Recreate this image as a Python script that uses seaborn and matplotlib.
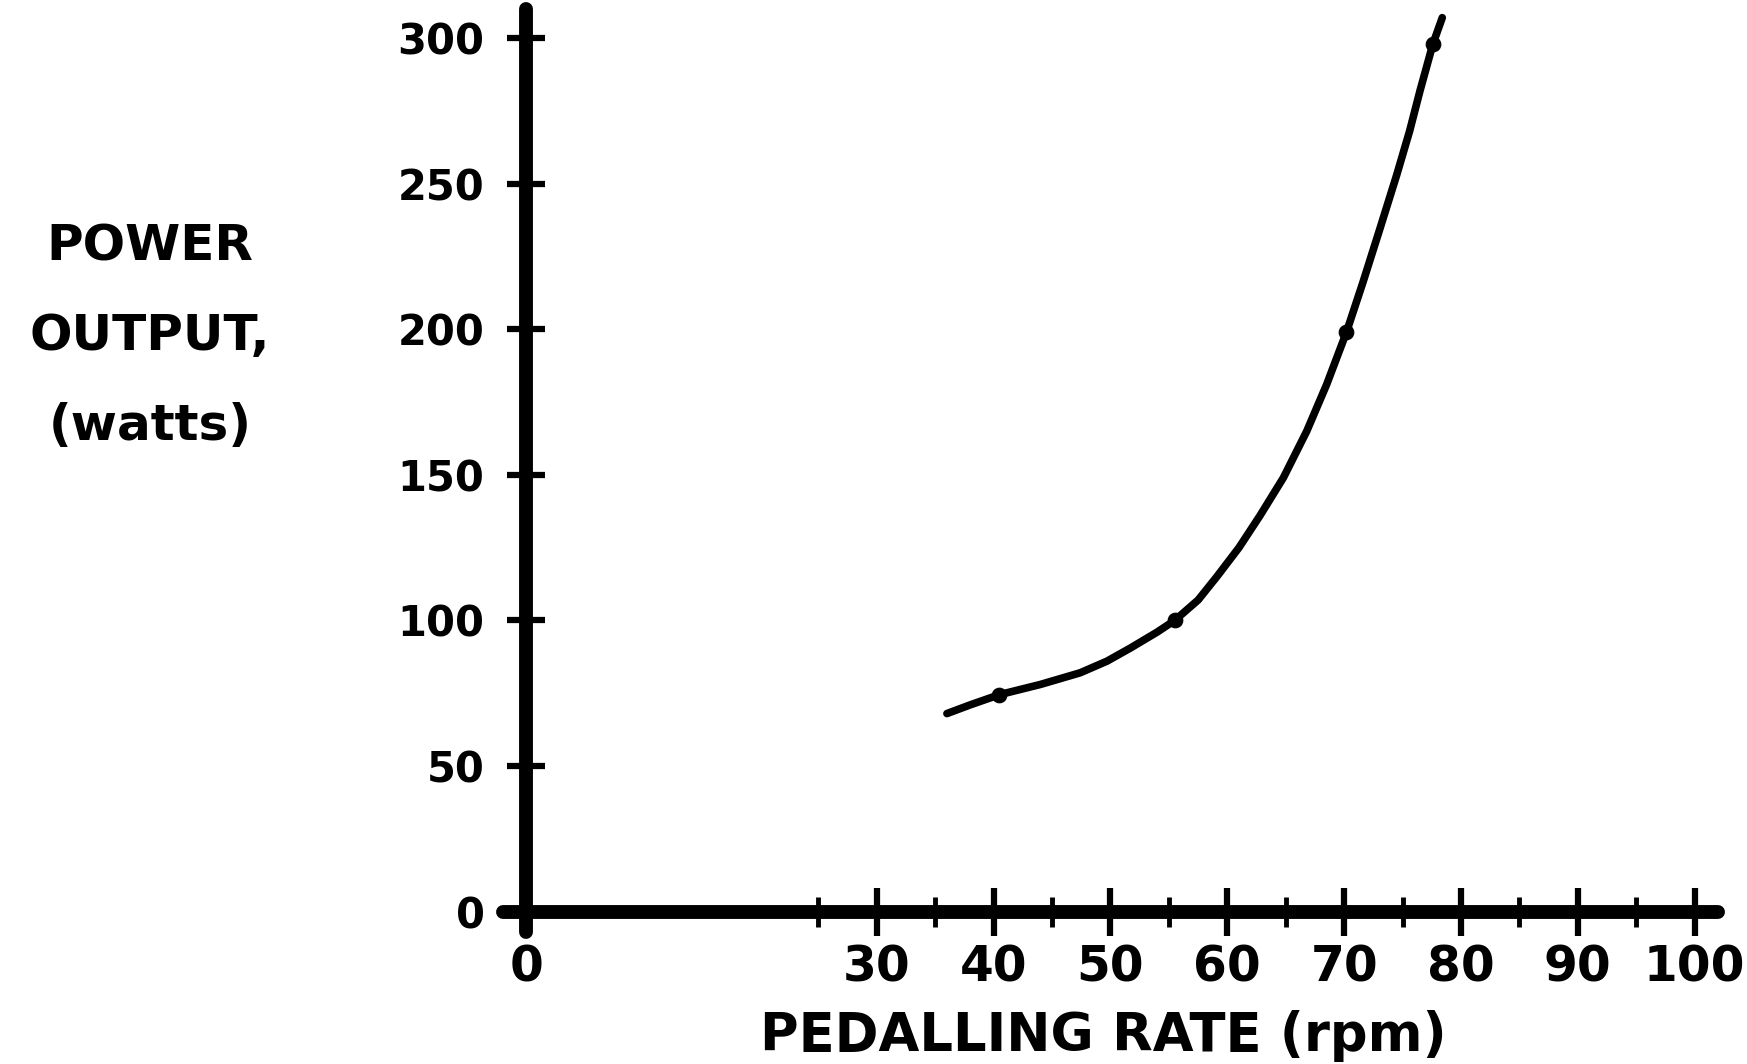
import numpy as np
import pandas as pd
import seaborn as sns
import matplotlib.pyplot as plt

# values
rpm = [36.0, 38.0, 40.5, 44.0, 47.4, 49.7, 51.7, 54.0, 55.5, 57.5, 59.1, 61.0,
       62.8, 64.8, 66.8, 68.5, 70.2, 71.6, 73.1, 74.5, 75.6, 76.5, 77.6, 78.4]
watts = [68, 71, 74.5, 78, 82, 86, 90.5, 96, 100, 107, 115, 125,
         136, 149, 165, 181, 199, 216, 235, 253, 268, 282, 298, 307]

# plotted points on the curve
point_rpm = [40.5, 55.5, 70.2, 77.6]
point_watts = [74.5, 100, 199, 298]

x_major = [0, 30, 40, 50, 60, 70, 80, 90, 100]
x_minor = [25, 35, 45, 55, 65, 75, 85, 95]
y_ticks = [0, 50, 100, 150, 200, 250, 300]

curve = pd.DataFrame({'rpm': rpm, 'watts': watts})
points = pd.DataFrame({'rpm': point_rpm, 'watts': point_watts})

sns.set_theme(style='white')
plt.rcParams['font.family'] = ['DejaVu Sans']

fig = plt.figure(figsize=(17.47, 10.64), dpi=100)
ax = fig.add_axes([0.2879, 0.1241, 0.6955, 0.8675])

sns.lineplot(data=curve, x='rpm', y='watts', ax=ax, color='black', linewidth=5.5,
             sort=False, estimator=None, solid_capstyle='round', solid_joinstyle='round')
sns.scatterplot(data=points, x='rpm', y='watts', ax=ax, color='black', s=110,
                edgecolor='black', zorder=3)

ax.set_xlim(-2, 102)
ax.set_ylim(-7, 310)

for side in ['top', 'right']:
    ax.spines[side].set_visible(False)
for side in ['left', 'bottom']:
    ax.spines[side].set_position(('data', 0))
    ax.spines[side].set_linewidth(10)
    ax.spines[side].set_color('black')
    ax.spines[side].set_capstyle('round')

ax.set_xticks(x_major)
ax.set_xticklabels([str(v) for v in x_major])
ax.set_xticks(x_minor, minor=True)
ax.set_yticks(y_ticks)
ax.set_yticklabels([str(v) for v in y_ticks])

ax.tick_params(axis='x', which='major', direction='inout', length=34, width=4.5,
               color='black', labelsize=35, pad=6, labelcolor='black', bottom=True)
ax.tick_params(axis='x', which='minor', direction='inout', length=22, width=3.5,
               color='black', bottom=True)
ax.tick_params(axis='y', which='major', direction='inout', length=28, width=4.5,
               color='black', labelsize=30, pad=16, labelcolor='black', left=True)
for lab in ax.get_xticklabels() + ax.get_yticklabels():
    lab.set_fontweight('bold')

ax.set_xlabel('PEDALLING RATE (rpm)', fontsize=38, fontweight='bold', color='black', va='center')
ax.xaxis.set_label_coords(0.494, -0.113)
ax.set_ylabel('POWER\nOUTPUT,\n(watts)', fontsize=36, fontweight='bold', color='black',
              rotation=0, ha='center', va='center', linespacing=2.1)
ax.yaxis.set_label_coords(-0.2905, 0.6457)

ax.grid(False)
fig.savefig('out.png', dpi=100, facecolor='white')
plt.close(fig)
